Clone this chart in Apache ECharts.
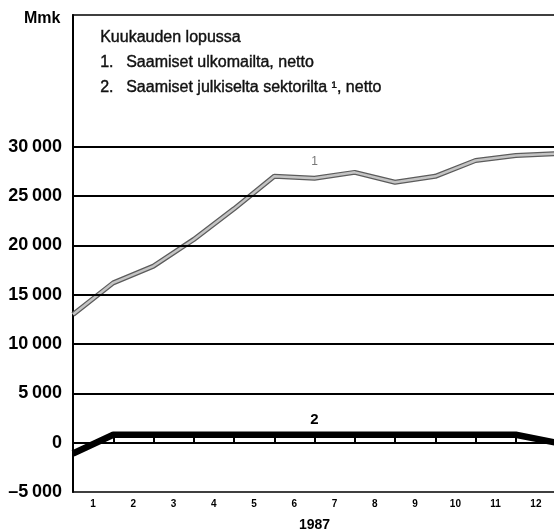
<!DOCTYPE html>
<html>
<head>
<meta charset="utf-8">
<script src="https://cdn.jsdelivr.net/npm/echarts@6/dist/echarts.min.js"></script>
<style>
  html, body { margin: 0; padding: 0; background: #fff; }
  #main { width: 554px; height: 530px; }
</style>
</head>
<body>
<div id="main"></div>
<script>
// kuukauden loppu: 0 = joulukuu 1986, 1..12 = tammi..joulu 1987
var monthEnds = [0, 1, 2, 3, 4, 5, 6, 7, 8, 9, 10, 11, 12];
var monthLabels = ['1', '2', '3', '4', '5', '6', '7', '8', '9', '10', '11', '12'];
// 1. Saamiset ulkomailta, netto (Mmk)
var saamisetUlkomailta = [13000, 16200, 17900, 20600, 23700, 27000, 26800, 27400, 26400, 27000, 28600, 29100, 29300];
// 2. Saamiset julkiselta sektorilta, netto (Mmk)
var saamisetJulkiselta = [-1100, 800, 800, 800, 800, 800, 800, 800, 800, 800, 800, 800, 0];
var yTicks = [-5000, 0, 5000, 10000, 15000, 20000, 25000, 30000];
var gridValues = [0, 5000, 10000, 15000, 20000, 25000, 30000];

var chartDom = document.getElementById('main');
var myChart = echarts.init(chartDom);
var option;

function fmt(v) {
    if (v === 0) return '0';
    var s = String(Math.abs(v));
    s = s.slice(0, s.length - 3) + '\u2009' + s.slice(-3);
    return (v < 0 ? '\u2013' : '') + s;
}

function pairs(arr) {
    return monthEnds.map(function (k, i) { return [k, arr[i]]; });
}

var font = '"Liberation Sans", Arial, sans-serif';
var legendStyle = function (txt) {
    return { text: txt, font: '16px ' + font, fill: '#111', stroke: '#111', lineWidth: 0.4 };
};

option = {
    animation: false,
    backgroundColor: '#fff',
    textStyle: { fontFamily: font, color: '#000' },
    title: {
        text: 'Mmk',
        left: 19,
        top: 6,
        textStyle: { fontFamily: font, fontSize: 16, fontWeight: 'bold', color: '#000' }
    },
    graphic: [
        { type: 'text', left: 100, top: 29, style: legendStyle('Kuukauden lopussa') },
        { type: 'text', left: 100, top: 54, style: legendStyle('1.') },
        { type: 'text', left: 126, top: 54, style: legendStyle('Saamiset ulkomailta, netto') },
        { type: 'text', left: 100, top: 79, style: legendStyle('2.') },
        { type: 'text', left: 126, top: 79, style: legendStyle('Saamiset julkiselta sektorilta \u00b9, netto') }
    ],
    grid: {
        left: 73,
        right: -2,
        top: 15,
        bottom: 38,
        containLabel: false,
        outerBoundsMode: 'none',
        show: true,
        borderColor: '#000',
        borderWidth: 1.5,
        backgroundColor: 'transparent'
    },
    xAxis: {
        type: 'value',
        min: 0,
        max: 12,
        name: '1987',
        nameLocation: 'middle',
        nameGap: 26,
        nameTextStyle: { fontFamily: font, fontSize: 14, fontWeight: 'bold', color: '#000' },
        splitLine: { show: false },
        axisLine: { show: true, lineStyle: { color: '#000', width: 2 } },
        axisTick: {
            show: true,
            inside: true,
            length: 10,
            customValues: [1, 2, 3, 4, 5, 6, 7, 8, 9, 10, 11],
            lineStyle: { color: '#000', width: 2 }
        },
        axisLabel: {
            customValues: monthLabels.map(function (m, i) { return i + 0.5; }),
            formatter: function (v) { return monthLabels[Math.floor(v)]; },
            fontFamily: font,
            fontSize: 10,
            fontWeight: 'bold',
            color: '#000',
            margin: 7
        }
    },
    yAxis: {
        type: 'value',
        min: -5000,
        max: 43350,
        splitLine: { show: false },
        axisLine: { show: true, lineStyle: { color: '#000', width: 2 } },
        axisTick: { show: false },
        axisLabel: {
            customValues: yTicks,
            formatter: fmt,
            fontFamily: font,
            fontSize: 18,
            fontWeight: 'bold',
            color: '#000',
            margin: 11
        }
    },
    series: [
        {
            // vaakaviivat
            type: 'line',
            data: [],
            silent: true,
            markLine: {
                silent: true,
                symbol: 'none',
                label: { show: false },
                lineStyle: { color: '#000', width: 2, type: 'solid' },
                data: gridValues.map(function (v) {
                    return { yAxis: v, lineStyle: { width: v === 0 ? 1.5 : 2 } };
                })
            }
        },
        {
            name: 'Saamiset ulkomailta, netto',
            type: 'line',
            data: pairs(saamisetUlkomailta),
            symbol: 'none',
            lineStyle: { color: '#5c5c5c', width: 5 },
            z: 3
        },
        {
            name: 'Saamiset ulkomailta, netto',
            type: 'line',
            data: pairs(saamisetUlkomailta),
            symbol: 'none',
            lineStyle: { color: '#c4c4c4', width: 2.5 },
            z: 4,
            markPoint: {
                symbol: 'circle',
                symbolSize: 1,
                itemStyle: { color: 'rgba(0,0,0,0)' },
                label: { show: true, formatter: '1', color: '#777', fontSize: 12, fontFamily: font },
                data: [{ coord: [6, 28500] }]
            }
        },
        {
            name: 'Saamiset julkiselta sektorilta, netto',
            type: 'line',
            data: pairs(saamisetJulkiselta),
            symbol: 'none',
            lineStyle: { color: '#000', width: 6.5 },
            z: 5,
            markPoint: {
                symbol: 'circle',
                symbolSize: 1,
                itemStyle: { color: 'rgba(0,0,0,0)' },
                label: { show: true, formatter: '2', color: '#000', fontSize: 15, fontWeight: 'bold', fontFamily: font },
                data: [{ coord: [6, 2300] }]
            }
        }
    ]
};
option && myChart.setOption(option);
</script>
</body>
</html>
